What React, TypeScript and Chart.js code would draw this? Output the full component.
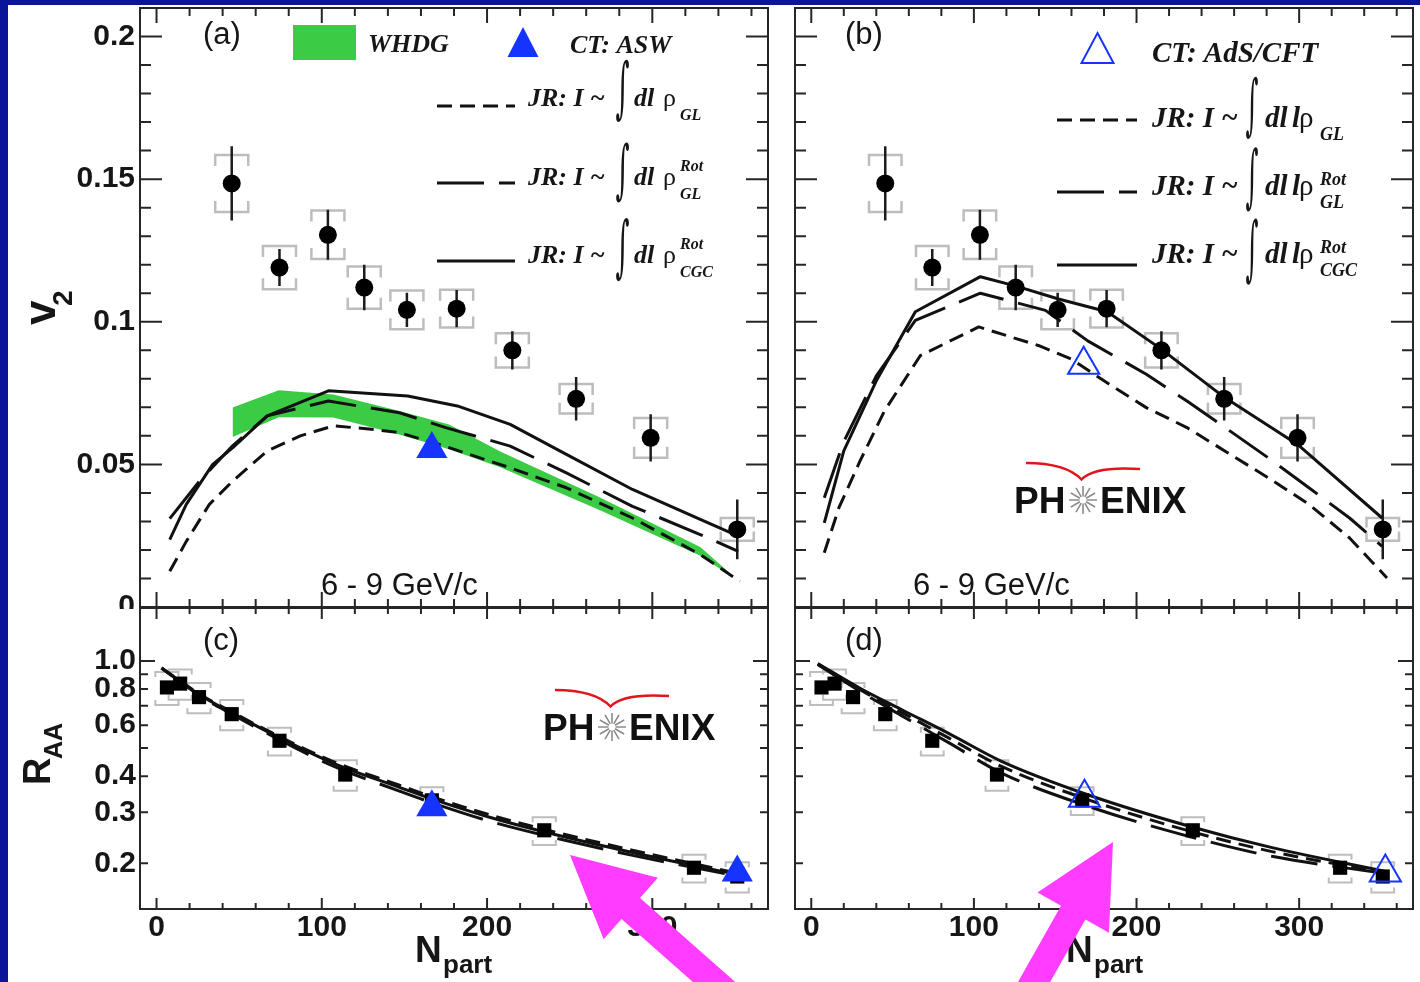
import React, { useEffect, useRef } from 'react';
import { Chart, registerables } from 'chart.js';

Chart.register(...registerables);

// ---------------- tick values ----------------
const xLabelTicks = [0, 100, 200, 300];
const xMinorTicks = [20, 40, 60, 80, 120, 140, 160, 180, 220, 240, 260, 280, 320, 340, 360];
const v2LabelTicks = [0, 0.05, 0.1, 0.15, 0.2];
const v2MinorTicks = [0.01, 0.02, 0.03, 0.04, 0.06, 0.07, 0.08, 0.09, 0.11, 0.12, 0.13, 0.14, 0.16, 0.17, 0.18, 0.19];
const raaLabelTicks = [0.2, 0.3, 0.4, 0.6, 0.8, 1.0];
const raaMajorTicks = [1.0];
const raaMinorTicks = [0.2, 0.3, 0.4, 0.5, 0.6, 0.7, 0.8, 0.9];

// ---------------- PHENIX data ----------------
const v2Npart = [45.5, 74.4, 103.7, 125.7, 151.5, 181.6, 215.3, 253.9, 299.0, 351.4];
const v2Value = [0.1485, 0.119, 0.1305, 0.112, 0.1042, 0.1046, 0.09, 0.073, 0.0593, 0.0272];
const v2Stat = [0.013, 0.0065, 0.0088, 0.008, 0.006, 0.0065, 0.0067, 0.0076, 0.0083, 0.0105];
const v2Sys = [0.01, 0.0076, 0.0085, 0.0074, 0.0068, 0.0066, 0.006, 0.0052, 0.007, 0.004];

const raaNpart = [6.3, 14.3, 25.7, 45.5, 74.4, 114.2, 166.6, 234.6, 325.2, 351.4];
const raaValue = [0.81, 0.835, 0.75, 0.655, 0.53, 0.405, 0.33, 0.26, 0.193, 0.18];
const raaSysRel = [0.13, 0.12, 0.12, 0.12, 0.11, 0.12, 0.11, 0.11, 0.11, 0.12];

// ---------------- theory: panel (a) ----------------
const whdgNpart = [46, 74, 107, 147, 177, 208, 268, 329, 347];
const whdgLow = [0.0596, 0.0665, 0.0664, 0.0605, 0.0553, 0.049, 0.034, 0.018, 0.011];
const whdgHigh = [0.0699, 0.076, 0.0745, 0.0687, 0.064, 0.0545, 0.0385, 0.021, 0.0118];

const aGLx = [8, 18, 32, 46, 67, 87, 107, 127, 147, 171, 214, 248, 288, 329, 353];
const aGLy = [0.0125, 0.023, 0.036, 0.0441, 0.0547, 0.06, 0.0635, 0.0625, 0.0611, 0.057, 0.0488, 0.0418, 0.0312, 0.0184, 0.009];
const aRotx = [8, 26, 46, 67, 104, 147, 175, 214, 248, 288, 329, 352];
const aRoty = [0.031, 0.0441, 0.0565, 0.067, 0.0722, 0.0681, 0.0629, 0.0564, 0.047, 0.0353, 0.0254, 0.0195];
const aCGCx = [8, 18, 34, 46, 67, 104, 152, 182, 214, 248, 288, 329, 350];
const aCGCy = [0.0236, 0.036, 0.05, 0.0558, 0.067, 0.0758, 0.074, 0.0705, 0.064, 0.0535, 0.0412, 0.0307, 0.0254];

const aswNpart = [166.6];
const aswV2 = [0.0554];

// ---------------- theory: panel (b) ----------------
const bGLx = [8, 17, 30, 45, 67, 103, 140, 160, 180, 206, 231, 256, 281, 306, 331, 354];
const bGLy = [0.019, 0.0348, 0.0512, 0.0687, 0.0881, 0.0982, 0.0916, 0.0869, 0.0793, 0.0699, 0.0629, 0.0541, 0.0453, 0.036, 0.0242, 0.0102];
const bRotx = [8, 20, 40, 64, 104, 144, 170, 206, 231, 256, 281, 306, 331, 351];
const bRoty = [0.0383, 0.058, 0.081, 0.1005, 0.11, 0.104, 0.0933, 0.0816, 0.0722, 0.0623, 0.0523, 0.0418, 0.0312, 0.0213];
const bCGCx = [8, 20, 40, 64, 104, 126, 152, 182, 215, 254, 299, 351];
const bCGCy = [0.0295, 0.0547, 0.0793, 0.1035, 0.1158, 0.1125, 0.108, 0.1035, 0.0905, 0.0735, 0.057, 0.0312];

const adsNpart = [167.5];
const adsV2 = [0.0849];

// ---------------- theory: panel (c) ----------------
const cX = [3, 15, 27, 47, 76, 107, 147, 167, 201, 238, 288, 353];
const cGL = [0.945, 0.848, 0.762, 0.66, 0.542, 0.449, 0.372, 0.339, 0.295, 0.259, 0.222, 0.184];
const cRot = [0.945, 0.842, 0.752, 0.648, 0.528, 0.433, 0.355, 0.323, 0.28, 0.247, 0.213, 0.18];
const cCGC = [0.945, 0.845, 0.758, 0.655, 0.537, 0.443, 0.366, 0.333, 0.289, 0.254, 0.218, 0.182];
const aswRaaNpart = [166.6, 351.4];
const aswRaa = [0.312, 0.186];

// ---------------- theory: panel (d) ----------------
const dX = [4, 30, 56, 85, 117, 170, 233, 284, 354];
const dGL = [0.975, 0.795, 0.662, 0.54, 0.432, 0.332, 0.258, 0.219, 0.185];
const dRot = [0.972, 0.785, 0.645, 0.52, 0.41, 0.315, 0.247, 0.211, 0.184];
const dCGC = [0.98, 0.805, 0.677, 0.56, 0.45, 0.345, 0.268, 0.226, 0.187];
const adsRaaNpart = [168, 353];
const adsRaa = [0.337, 0.186];

// ---------------- styles ----------------
const W = 1420;
const H = 982;
const SANS = '"Liberation Sans", Arial, Helvetica, sans-serif';
const SERIF = '"Liberation Serif", "Times New Roman", serif';
const INT_FONT = '"DejaVu Serif", "Liberation Serif", serif';
const INK = '#161616';
const FRAME = '#262626';
const GREEN = '#3bcb45';
const BLUE = '#1634ff';
const PAGE_BLUE = '#0b1597';
const SYS_GREY = '#bdbdbd';
const ARROW = '#ff3cff';
const DASH_SHORT = [15, 8];
const DASH_LONG = [47, 15];
const V2_BOX_HALF = 10;
const RAA_BOX_HALF = 7;

// ---------------- helpers ----------------
function pts(xs: number[], ys: number[]) {
  return xs.map((x, i) => ({ x, y: ys[i] }));
}

function lineSet(xs: number[], ys: number[], dash: number[], smooth = false) {
  return {
    data: pts(xs, ys),
    borderColor: '#111',
    borderWidth: 3,
    borderDash: dash,
    borderJoinStyle: 'round',
    pointRadius: 0,
    pointHoverRadius: 0,
    fill: false,
    tension: 0,
    cubicInterpolationMode: smooth ? 'monotone' : 'default',
    order: 3,
  };
}

function markerSet(xs: number[], ys: number[], style: string, radius: number, bg: string, border: string, bw: number, order: number) {
  return {
    data: pts(xs, ys),
    showLine: false,
    pointStyle: style,
    pointRadius: radius,
    pointHoverRadius: radius,
    pointBackgroundColor: bg,
    pointBorderColor: border,
    pointBorderWidth: bw,
    backgroundColor: bg,
    borderColor: border,
    order,
  };
}

function zeroPad(s: any) {
  s.paddingLeft = 0;
  s.paddingRight = 0;
  s.paddingTop = 0;
  s.paddingBottom = 0;
}

const tickFont = { family: SANS, size: 30, weight: 'bold' };

function makeX(show: boolean) {
  return {
    type: 'linear',
    min: -10,
    max: 370,
    display: show,
    position: 'bottom',
    afterBuildTicks: (s: any) => {
      s.ticks = xLabelTicks.map((v) => ({ value: v }));
    },
    afterFit: (s: any) => {
      s.height = show ? H - 909 : 0;
      zeroPad(s);
    },
    grid: { display: false, drawTicks: false },
    border: { display: false },
    ticks: {
      font: tickFont,
      color: INK,
      padding: 1,
      maxRotation: 0,
      minRotation: 0,
      autoSkip: false,
      callback: (v: any) => String(v),
    },
  };
}

function makeYv2(show: boolean) {
  return {
    type: 'linear',
    min: 0,
    max: 0.21,
    display: show,
    position: 'left',
    afterBuildTicks: (s: any) => {
      s.ticks = v2LabelTicks.map((v) => ({ value: v }));
    },
    afterFit: (s: any) => {
      s.width = show ? 140 : 0;
      zeroPad(s);
    },
    grid: { display: false, drawTicks: false },
    border: { display: false },
    ticks: { font: tickFont, color: INK, padding: 5, callback: (v: any) => String(v) },
  };
}

function makeYraa(show: boolean) {
  return {
    type: 'logarithmic',
    min: 0.139,
    max: 1.524,
    display: show,
    position: 'left',
    afterBuildTicks: (s: any) => {
      s.ticks = raaLabelTicks.map((v) => ({ value: v }));
    },
    afterFit: (s: any) => {
      s.width = show ? 140 : 0;
      zeroPad(s);
    },
    grid: { display: false, drawTicks: false },
    border: { display: false },
    ticks: { font: tickFont, color: INK, padding: 4, callback: (v: any) => Number(v).toFixed(1) },
  };
}

function baseOptions(padding: any, x: any, y: any) {
  return {
    responsive: false,
    animation: false,
    devicePixelRatio: 1,
    events: [],
    layout: { padding, autoPadding: false },
    plugins: { legend: { display: false }, tooltip: { enabled: false }, title: { display: false } },
    scales: { x, y },
  };
}

function txt(ctx: CanvasRenderingContext2D, s: string, x: number, y: number, font: string, color = INK) {
  ctx.font = font;
  ctx.fillStyle = color;
  ctx.textAlign = 'left';
  ctx.textBaseline = 'alphabetic';
  ctx.fillText(s, x, y);
}

function drawFrameTicks(chart: any, spec: any) {
  const { ctx, chartArea: a } = chart;
  const xs = chart.scales.x;
  const ys = chart.scales.y;
  ctx.save();
  ctx.strokeStyle = FRAME;
  ctx.lineWidth = 2;
  ctx.setLineDash([]);
  ctx.beginPath();
  const xt = (vals: number[], len: number) => {
    for (const v of vals) {
      const p = xs.getPixelForValue(v);
      ctx.moveTo(p, a.bottom);
      ctx.lineTo(p, a.bottom - len);
      ctx.moveTo(p, a.top);
      ctx.lineTo(p, a.top + len);
    }
  };
  const yt = (vals: number[], len: number) => {
    for (const v of vals) {
      const p = ys.getPixelForValue(v);
      ctx.moveTo(a.left, p);
      ctx.lineTo(a.left + len, p);
      ctx.moveTo(a.right, p);
      ctx.lineTo(a.right - len, p);
    }
  };
  xt(xLabelTicks, spec.xMaj);
  xt(xMinorTicks, spec.xMin);
  yt(spec.yMajVals, spec.yMaj);
  yt(spec.yMinVals, spec.yMin);
  ctx.stroke();
  ctx.strokeRect(a.left, a.top, a.right - a.left, a.bottom - a.top);
  ctx.restore();
}

function bracketBox(ctx: CanvasRenderingContext2D, l: number, r: number, t: number, b: number, leg: number) {
  const lg = Math.max(2, Math.min(leg, (b - t) / 2 - 2));
  ctx.beginPath();
  ctx.moveTo(l, t + lg);
  ctx.lineTo(l, t);
  ctx.lineTo(r, t);
  ctx.lineTo(r, t + lg);
  ctx.moveTo(l, b - lg);
  ctx.lineTo(l, b);
  ctx.lineTo(r, b);
  ctx.lineTo(r, b - lg);
  ctx.stroke();
}

function drawV2Errors(chart: any) {
  const { ctx } = chart;
  const x = chart.scales.x;
  const y = chart.scales.y;
  ctx.save();
  ctx.strokeStyle = SYS_GREY;
  ctx.lineWidth = 2.5;
  v2Npart.forEach((n, i) => {
    const l = x.getPixelForValue(n - V2_BOX_HALF);
    const r = x.getPixelForValue(n + V2_BOX_HALF);
    const t = y.getPixelForValue(v2Value[i] + v2Sys[i]);
    const b = y.getPixelForValue(v2Value[i] - v2Sys[i]);
    bracketBox(ctx, l, r, t, b, 11);
  });
  ctx.strokeStyle = '#1c1c1c';
  ctx.lineWidth = 2.5;
  ctx.beginPath();
  v2Npart.forEach((n, i) => {
    const p = x.getPixelForValue(n);
    ctx.moveTo(p, y.getPixelForValue(v2Value[i] + v2Stat[i]));
    ctx.lineTo(p, y.getPixelForValue(v2Value[i] - v2Stat[i]));
  });
  ctx.stroke();
  ctx.restore();
}

function drawRaaErrors(chart: any) {
  const { ctx } = chart;
  const x = chart.scales.x;
  const y = chart.scales.y;
  ctx.save();
  ctx.strokeStyle = SYS_GREY;
  ctx.lineWidth = 2;
  raaNpart.forEach((n, i) => {
    const l = x.getPixelForValue(n - RAA_BOX_HALF);
    const r = x.getPixelForValue(n + RAA_BOX_HALF);
    const t = y.getPixelForValue(raaValue[i] * (1 + raaSysRel[i]));
    const b = y.getPixelForValue(raaValue[i] * (1 - raaSysRel[i]));
    bracketBox(ctx, l, r, t, b, 5);
  });
  ctx.restore();
}

function drawIntegral(ctx: CanvasRenderingContext2D, x: number, top: number, bottom: number, width: number) {
  ctx.save();
  ctx.font = `100px ${INT_FONT}`;
  ctx.textAlign = 'left';
  ctx.textBaseline = 'alphabetic';
  const m = ctx.measureText('\u222B');
  const asc = m.actualBoundingBoxAscent;
  const desc = m.actualBoundingBoxDescent;
  const left = m.actualBoundingBoxLeft;
  const right = m.actualBoundingBoxRight;
  const h = asc + desc || 100;
  const w = left + right || 30;
  ctx.translate(x, top);
  ctx.scale(width / w, (bottom - top) / h);
  ctx.fillStyle = INK;
  ctx.fillText('\u222B', left, asc);
  ctx.restore();
}

function drawLegendLine(ctx: CanvasRenderingContext2D, x1: number, x2: number, y: number, dash: number[]) {
  ctx.save();
  ctx.strokeStyle = '#111';
  ctx.lineWidth = 3;
  ctx.setLineDash(dash);
  ctx.beginPath();
  ctx.moveTo(x1, y);
  ctx.lineTo(x2, y);
  ctx.stroke();
  ctx.restore();
}

function drawJR(ctx: CanvasRenderingContext2D, c: any, e: any) {
  const bi = `italic bold ${c.size}px ${SERIF}`;
  txt(ctx, 'JR: I ~', c.jrX, e.baseline, bi);
  drawIntegral(ctx, c.intX, e.intTop, e.intBot, c.intW);
  txt(ctx, 'dl', c.dlX, e.baseline, bi);
  if (c.lX !== null) txt(ctx, 'l', c.lX, e.baseline, bi);
  txt(ctx, '\u03C1', c.rhoX, e.baseline, `${c.size}px ${SERIF}`);
  const sf = `italic bold ${c.scriptSize}px ${SERIF}`;
  if (e.sup) txt(ctx, e.sup, c.scriptX, e.baseline + c.supDy, sf);
  txt(ctx, e.sub, c.scriptX, e.baseline + c.subDy, sf);
}

function drawPhenix(ctx: CanvasRenderingContext2D, x0: number, base: number) {
  ctx.save();
  txt(ctx, 'PH', x0, base, `bold 37px ${SANS}`, '#111');
  txt(ctx, 'ENIX', x0 + 86, base, `bold 37px ${SANS}`, '#111');
  const cx = x0 + 69;
  const cy = base - 13;
  ctx.strokeStyle = '#8c8c8c';
  ctx.lineWidth = 1.6;
  ctx.beginPath();
  for (let k = 0; k < 12; k++) {
    const a = (k * Math.PI) / 6;
    ctx.moveTo(cx + 3.5 * Math.cos(a), cy + 3.5 * Math.sin(a));
    ctx.lineTo(cx + 14 * Math.cos(a), cy + 14 * Math.sin(a));
  }
  ctx.stroke();
  ctx.strokeStyle = '#e3141c';
  ctx.lineWidth = 2.5;
  ctx.beginPath();
  ctx.moveTo(x0 + 12, base - 50);
  ctx.quadraticCurveTo(x0 + 52, base - 50, x0 + 67.5, base - 33.5);
  ctx.quadraticCurveTo(x0 + 80, base - 47, x0 + 126, base - 44);
  ctx.stroke();
  ctx.restore();
}

function drawArrow(ctx: CanvasRenderingContext2D, tipX: number, tipY: number, ux: number, uy: number) {
  const len = 260;
  const shaft = 28;
  const headLen = 81;
  const headHalf = 41;
  const px = -uy;
  const py = ux;
  const bx = tipX + ux * headLen;
  const by = tipY + uy * headLen;
  const tx = tipX + ux * len;
  const ty = tipY + uy * len;
  ctx.save();
  ctx.fillStyle = ARROW;
  ctx.beginPath();
  ctx.moveTo(tipX, tipY);
  ctx.lineTo(bx + px * headHalf, by + py * headHalf);
  ctx.lineTo(bx + (px * shaft) / 2, by + (py * shaft) / 2);
  ctx.lineTo(tx + (px * shaft) / 2, ty + (py * shaft) / 2);
  ctx.lineTo(tx - (px * shaft) / 2, ty - (py * shaft) / 2);
  ctx.lineTo(bx - (px * shaft) / 2, by - (py * shaft) / 2);
  ctx.lineTo(bx - px * headHalf, by - py * headHalf);
  ctx.closePath();
  ctx.fill();
  ctx.restore();
}

const v2TickSpec = { xMaj: 15, xMin: 8, yMajVals: v2LabelTicks, yMaj: 22, yMinVals: v2MinorTicks, yMin: 11 };
const raaTickSpec = { xMaj: 11, xMin: 6, yMajVals: raaMajorTicks, yMaj: 15, yMinVals: raaMinorTicks, yMin: 8 };

// ---------------- chart configs ----------------
function configA(): any {
  return {
    type: 'line',
    data: {
      datasets: [
        { data: pts(whdgNpart, whdgHigh), borderWidth: 0, pointRadius: 0, backgroundColor: GREEN, borderColor: GREEN, fill: '+1', order: 6 },
        { data: pts(whdgNpart, whdgLow), borderWidth: 0, pointRadius: 0, backgroundColor: GREEN, borderColor: GREEN, fill: false, order: 7 },
        lineSet(aGLx, aGLy, DASH_SHORT),
        lineSet(aRotx, aRoty, DASH_LONG),
        lineSet(aCGCx, aCGCy, []),
        markerSet(v2Npart, v2Value, 'circle', 9, '#000', '#000', 0, 1),
        markerSet(aswNpart, aswV2, 'triangle', 18, BLUE, BLUE, 0, 0),
      ],
    },
    options: baseOptions({ left: 0, top: 8, right: W - 768, bottom: H - 607 }, makeX(false), makeYv2(true)),
    plugins: [
      {
        id: 'decorA',
        beforeDatasetsDraw: (chart: any) => drawV2Errors(chart),
        afterDraw: (chart: any) => {
          const ctx = chart.ctx as CanvasRenderingContext2D;
          drawFrameTicks(chart, v2TickSpec);
          ctx.save();
          ctx.fillStyle = GREEN;
          ctx.fillRect(293, 25, 63, 35);
          txt(ctx, 'WHDG', 368, 52, `italic bold 26px ${SERIF}`);
          ctx.fillStyle = BLUE;
          ctx.beginPath();
          ctx.moveTo(523, 27);
          ctx.lineTo(538.5, 57);
          ctx.lineTo(507.5, 57);
          ctx.closePath();
          ctx.fill();
          txt(ctx, 'CT: ASW', 570, 53, `italic bold 26px ${SERIF}`);
          drawLegendLine(ctx, 437, 515, 106, DASH_SHORT);
          drawLegendLine(ctx, 437, 515, 183, DASH_LONG);
          drawLegendLine(ctx, 437, 515, 261, []);
          const cfg = { size: 26, jrX: 528, intX: 616, intW: 13, dlX: 634, lX: null, rhoX: 663, scriptX: 680, scriptSize: 16, supDy: -14, subDy: 14 };
          drawJR(ctx, cfg, { baseline: 106, intTop: 60, intBot: 123, sub: 'GL', sup: null });
          drawJR(ctx, cfg, { baseline: 185, intTop: 142, intBot: 203, sub: 'GL', sup: 'Rot' });
          drawJR(ctx, cfg, { baseline: 263, intTop: 218, intBot: 282, sub: 'CGC', sup: 'Rot' });
          txt(ctx, '(a)', 203, 44, `31px ${SANS}`);
          txt(ctx, '6 - 9 GeV/c', 321, 595, `31px ${SANS}`);
          ctx.save();
          ctx.translate(55, 325);
          ctx.rotate(-Math.PI / 2);
          txt(ctx, 'v', 0, 0, `bold 44px ${SANS}`);
          txt(ctx, '2', 19, 17, `bold 28px ${SANS}`);
          ctx.restore();
          ctx.restore();
        },
      },
    ],
  };
}

function configB(): any {
  return {
    type: 'line',
    data: {
      datasets: [
        lineSet(bGLx, bGLy, DASH_SHORT),
        lineSet(bRotx, bRoty, DASH_LONG),
        lineSet(bCGCx, bCGCy, []),
        markerSet(v2Npart, v2Value, 'circle', 9, '#000', '#000', 0, 1),
        markerSet(adsNpart, adsV2, 'triangle', 18, 'rgba(255,255,255,0)', BLUE, 2, 0),
      ],
    },
    options: baseOptions({ left: 795, top: 8, right: W - 1413, bottom: H - 607 }, makeX(false), makeYv2(false)),
    plugins: [
      {
        id: 'decorB',
        beforeDatasetsDraw: (chart: any) => drawV2Errors(chart),
        afterDraw: (chart: any) => {
          const ctx = chart.ctx as CanvasRenderingContext2D;
          drawFrameTicks(chart, v2TickSpec);
          ctx.save();
          ctx.strokeStyle = BLUE;
          ctx.lineWidth = 2;
          ctx.beginPath();
          ctx.moveTo(1097.5, 33);
          ctx.lineTo(1113.5, 63);
          ctx.lineTo(1081.5, 63);
          ctx.closePath();
          ctx.stroke();
          txt(ctx, 'CT: AdS/CFT', 1152, 62, `italic bold 29px ${SERIF}`);
          drawLegendLine(ctx, 1057, 1137, 120, DASH_SHORT);
          drawLegendLine(ctx, 1057, 1137, 192, DASH_LONG);
          drawLegendLine(ctx, 1057, 1137, 265, []);
          const cfg = { size: 29, jrX: 1152, intX: 1246, intW: 12, dlX: 1265, lX: 1292, rhoX: 1299, scriptX: 1320, scriptSize: 18, supDy: -10, subDy: 13 };
          drawJR(ctx, cfg, { baseline: 127, intTop: 77, intBot: 140, sub: 'GL', sup: null });
          drawJR(ctx, cfg, { baseline: 195, intTop: 147, intBot: 212, sub: 'GL', sup: 'Rot' });
          drawJR(ctx, cfg, { baseline: 263, intTop: 218, intBot: 285, sub: 'CGC', sup: 'Rot' });
          txt(ctx, '(b)', 845, 44, `31px ${SANS}`);
          txt(ctx, '6 - 9 GeV/c', 913, 595, `31px ${SANS}`);
          drawPhenix(ctx, 1014, 513);
          ctx.restore();
        },
      },
    ],
  };
}

function configC(): any {
  return {
    type: 'line',
    data: {
      datasets: [
        lineSet(cX, cGL, DASH_SHORT, true),
        lineSet(cX, cRot, DASH_LONG, true),
        lineSet(cX, cCGC, [], true),
        markerSet(raaNpart, raaValue, 'rect', 10, '#000', '#000', 0, 1),
        markerSet(aswRaaNpart, aswRaa, 'triangle', 18, BLUE, BLUE, 0, 0),
      ],
    },
    options: baseOptions({ left: 0, top: 608, right: W - 768, bottom: 0 }, makeX(true), makeYraa(true)),
    plugins: [
      {
        id: 'decorC',
        beforeDraw: (chart: any) => {
          const ctx = chart.ctx as CanvasRenderingContext2D;
          ctx.save();
          ctx.fillStyle = '#ffffff';
          ctx.fillRect(8, 609, 131, 34);
          ctx.restore();
        },
        beforeDatasetsDraw: (chart: any) => drawRaaErrors(chart),
        afterDraw: (chart: any) => {
          const ctx = chart.ctx as CanvasRenderingContext2D;
          drawFrameTicks(chart, raaTickSpec);
          ctx.save();
          txt(ctx, '(c)', 203, 650, `31px ${SANS}`);
          drawPhenix(ctx, 543, 740);
          ctx.save();
          ctx.translate(50, 785);
          ctx.rotate(-Math.PI / 2);
          txt(ctx, 'R', 0, 0, `bold 38px ${SANS}`);
          txt(ctx, 'AA', 26, 12, `bold 25px ${SANS}`);
          ctx.restore();
          txt(ctx, 'N', 415, 962, `bold 37px ${SANS}`);
          txt(ctx, 'part', 443, 973, `bold 26px ${SANS}`);
          ctx.restore();
        },
      },
    ],
  };
}

function configD(): any {
  return {
    type: 'line',
    data: {
      datasets: [
        lineSet(dX, dGL, DASH_SHORT, true),
        lineSet(dX, dRot, DASH_LONG, true),
        lineSet(dX, dCGC, [], true),
        markerSet(raaNpart, raaValue, 'rect', 10, '#000', '#000', 0, 1),
        markerSet(adsRaaNpart, adsRaa, 'triangle', 18, 'rgba(255,255,255,0)', BLUE, 2, 0),
      ],
    },
    options: baseOptions({ left: 795, top: 608, right: W - 1413, bottom: 0 }, makeX(true), makeYraa(false)),
    plugins: [
      {
        id: 'decorD',
        beforeDatasetsDraw: (chart: any) => drawRaaErrors(chart),
        afterDraw: (chart: any) => {
          const ctx = chart.ctx as CanvasRenderingContext2D;
          drawFrameTicks(chart, raaTickSpec);
          ctx.save();
          txt(ctx, '(d)', 845, 650, `31px ${SANS}`);
          txt(ctx, 'N', 1066, 962, `bold 37px ${SANS}`);
          txt(ctx, 'part', 1094, 973, `bold 26px ${SANS}`);
          drawArrow(ctx, 570, 855, 0.75, 0.661);
          drawArrow(ctx, 1113, 842, -0.491, 0.871);
          ctx.restore();
        },
      },
    ],
  };
}

export default function App() {
  const refA = useRef<HTMLCanvasElement>(null);
  const refB = useRef<HTMLCanvasElement>(null);
  const refC = useRef<HTMLCanvasElement>(null);
  const refD = useRef<HTMLCanvasElement>(null);

  useEffect(() => {
    document.body.style.margin = '0';
    document.body.style.overflow = 'hidden';
    const charts = [
      new Chart(refA.current as HTMLCanvasElement, configA()),
      new Chart(refB.current as HTMLCanvasElement, configB()),
      new Chart(refC.current as HTMLCanvasElement, configC()),
      new Chart(refD.current as HTMLCanvasElement, configD()),
    ];
    return () => charts.forEach((c) => c.destroy());
  }, []);

  const cv = { position: 'absolute' as const, left: 0, top: 0, width: W, height: H };
  return (
    <div style={{ position: 'absolute', left: 0, top: 0, width: W, height: H, background: PAGE_BLUE, overflow: 'hidden' }}>
      <div style={{ position: 'absolute', left: 8, top: 5, width: W - 8, height: H - 5, background: '#ffffff' }} />
      <canvas ref={refA} width={W} height={H} style={cv} />
      <canvas ref={refB} width={W} height={H} style={cv} />
      <canvas ref={refC} width={W} height={H} style={cv} />
      <canvas ref={refD} width={W} height={H} style={cv} />
    </div>
  );
}
